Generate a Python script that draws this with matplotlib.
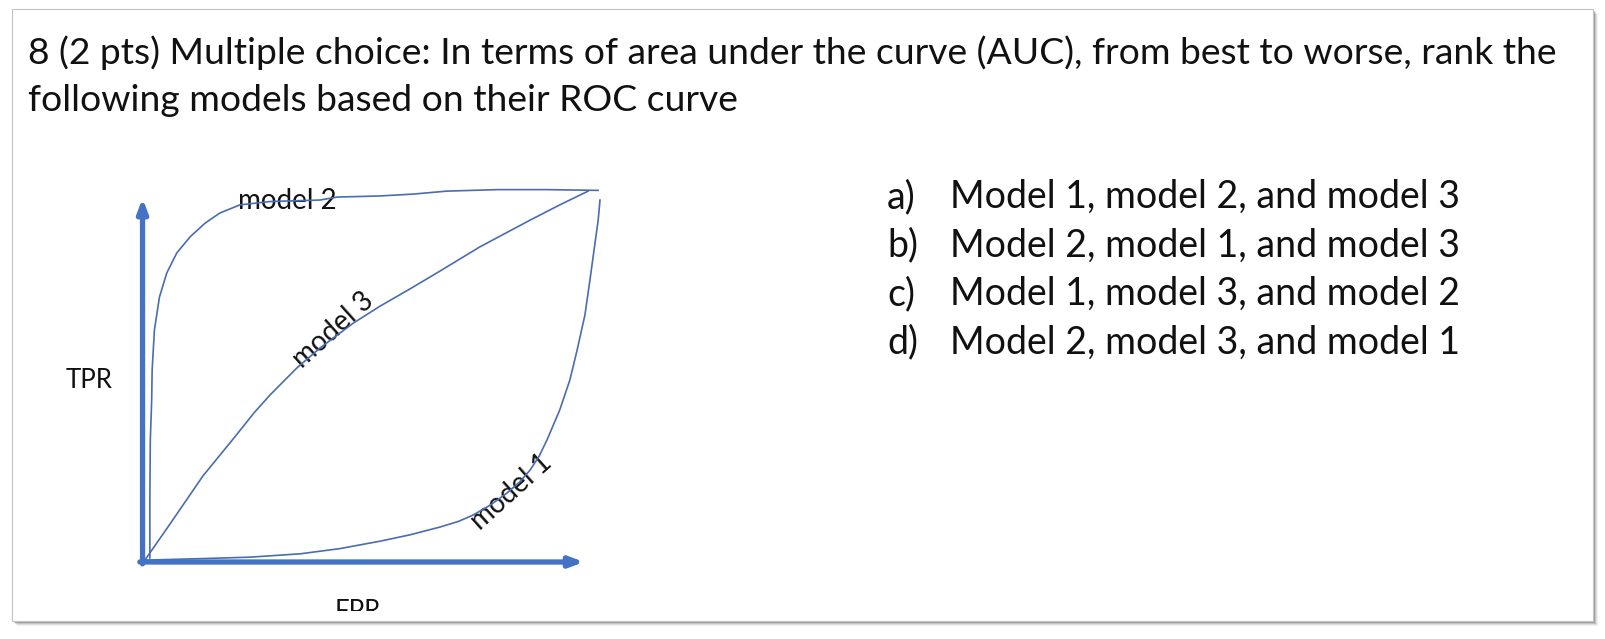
import matplotlib
matplotlib.use('Agg')
import matplotlib.pyplot as plt
from matplotlib.patches import Rectangle

# question text
title_lines = ['8 (2 pts) Multiple choice: In terms of area under the curve (AUC), from best to worse, rank the',
               'following models based on their ROC curve']
choice_keys = ['a)', 'b)', 'c)', 'd)']
choice_texts = ['Model 1, model 2, and model 3',
                'Model 2, model 1, and model 3',
                'Model 1, model 3, and model 2',
                'Model 2, model 3, and model 1']

# hand drawn ROC curves (FPR, TPR)
model1_fpr = [0.004, 0.125, 0.234, 0.344, 0.431, 0.519, 0.584, 0.650, 0.690, 0.722, 0.760, 0.796,
              0.824, 0.847, 0.867, 0.884, 0.912, 0.934, 0.950, 0.967, 0.978, 0.987, 0.996, 1.000]
model1_tpr = [0.005, 0.009, 0.013, 0.022, 0.036, 0.056, 0.073, 0.094, 0.109, 0.126, 0.153, 0.185,
              0.215, 0.247, 0.285, 0.328, 0.409, 0.489, 0.570, 0.664, 0.758, 0.839, 0.919, 0.973]

model2_fpr = [0.015, 0.015, 0.016, 0.019, 0.020, 0.025, 0.036, 0.052, 0.074, 0.103, 0.136,
              0.168, 0.212, 0.278, 0.387, 0.425, 0.519, 0.591, 0.665, 0.775, 0.884, 0.996]
model2_tpr = [0.011, 0.167, 0.328, 0.435, 0.516, 0.624, 0.712, 0.777, 0.831, 0.874, 0.911,
              0.938, 0.960, 0.969, 0.973, 0.981, 0.984, 0.989, 0.997, 1.001, 1.001, 0.999]

model3_fpr = [0.004, 0.059, 0.131, 0.206, 0.243, 0.278, 0.337, 0.387, 0.460, 0.519, 0.584,
              0.643, 0.737, 0.847, 0.912, 0.974]
model3_tpr = [0.005, 0.102, 0.231, 0.344, 0.401, 0.449, 0.522, 0.575, 0.642, 0.688, 0.734,
              0.777, 0.847, 0.919, 0.960, 0.997]

W, H = 1606, 639
fig = plt.figure(figsize=(W / 100, H / 100), dpi=100)
fig.patch.set_facecolor('white')

# page layer in pixel units
page = fig.add_axes([0, 0, 1, 1])
page.set_xlim(0, W)
page.set_ylim(H, 0)
page.axis('off')

# card with soft shadow
for k, a in [(5, 0.05), (4, 0.08), (3, 0.12), (2, 0.18), (1, 0.25)]:
    page.add_patch(Rectangle((12.5 + k, 8.5 + k), 1581, 612, facecolor='black', alpha=a,
                             edgecolor='none', zorder=1))
card = Rectangle((12.5, 8.5), 1581, 612, facecolor='white', edgecolor='#c4c4c4', lw=0.8, zorder=2)
page.add_patch(card)

txt = dict(family=['Lato', 'DejaVu Sans'], color='#111111', zorder=5)
page.text(28.5, 63.5, title_lines[0], fontsize=26.8, va='baseline', **txt)
page.text(28.5, 111, title_lines[1], fontsize=26.8, va='baseline', **txt)

for i, (k, t) in enumerate(zip(choice_keys, choice_texts)):
    y = 208 + i * 48.5
    page.text(887, y, k, fontsize=27, va='baseline', **txt)
    page.text(950, y, t, fontsize=27, va='baseline', **txt)

page.text(89, 381, 'TPR', fontsize=18.5, ha='center', va='center', **txt)
page.text(358, 599, 'FPR', fontsize=18.5, ha='center', va='top', **txt)
# the pasted diagram is cut off a little above the card edge
page.add_patch(Rectangle((14, 611), 1578, 9, facecolor='white', edgecolor='none', zorder=6))

# ROC drawing area: FPR 0..1 -> x 143..600 px, TPR 0..1 -> y 562..190 px
x0, x1, y0, y1 = 143, 600, 562, 190
roc = fig.add_axes([x0 / W, (H - y0) / H, (x1 - x0) / W, (y0 - y1) / H])
roc.set_xlim(0, 1)
roc.set_ylim(0, 1)
roc.axis('off')
roc.patch.set_alpha(0)

axis_col = '#4472C4'
arrow = dict(arrowstyle='-|>,head_length=0.8,head_width=0.3', lw=3.8, color=axis_col,
             shrinkA=0, shrinkB=0, mutation_scale=10)
roc.annotate('', xy=(0.965, 0), xytext=(-0.007, 0), arrowprops=arrow, annotation_clip=False)
roc.annotate('', xy=(-0.001, 0.978), xytext=(-0.001, -0.005), arrowprops=arrow, annotation_clip=False)

curve_col = '#4a6cb0'
roc.plot(model1_fpr, model1_tpr, color=curve_col, lw=1.2, clip_on=False, solid_joinstyle='round')
roc.plot(model2_fpr, model2_tpr, color=curve_col, lw=1.2, clip_on=False, solid_joinstyle='round')
roc.plot(model3_fpr, model3_tpr, color=curve_col, lw=1.2, clip_on=False, solid_joinstyle='round')

page.text(287, 201, 'model 2', fontsize=20, ha='center', va='center', **txt)
page.text(333, 330, 'model 3', fontsize=20, ha='center', va='center', rotation=42,
          rotation_mode='anchor', **txt)
page.text(511, 492, 'model 1', fontsize=20, ha='center', va='center', rotation=42,
          rotation_mode='anchor', **txt)

fig.savefig('out.png', dpi=100)
